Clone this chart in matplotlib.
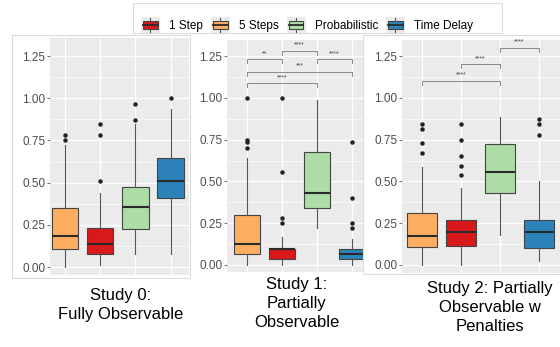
import matplotlib.pyplot as plt
from matplotlib.patches import Rectangle
from matplotlib.lines import Line2D
from matplotlib.legend_handler import HandlerBase

plt.rcParams['font.family'] = ['Liberation Sans', 'DejaVu Sans']

W, H = 560, 347

groups = ["5 Steps", "1 Step", "Probabilistic", "Time Delay"]
colors = ["#FDAE61", "#D7191C", "#ABDDA4", "#2B83BA"]
legend_order = [1, 0, 2, 3]

titles = ["Study 0:\nFully Observable",
          "Study 1:\nPartially\nObservable",
          "Study 2: Partially\nObservable w\nPenalties"]

# box statistics per study, groups in plot order
s0_lo = [0.0, 0.01, 0.08, 0.08]
s0_q1 = [0.105, 0.075, 0.227, 0.41]
s0_med = [0.184, 0.136, 0.354, 0.508]
s0_q3 = [0.352, 0.231, 0.475, 0.647]
s0_hi = [0.722, 0.44, 0.845, 0.936]
s0_out = [[0.75, 0.78], [0.51, 0.78, 0.845], [0.874, 0.967], [1.0]]

s1_lo = [0.0, 0.0, 0.22, 0.0]
s1_q1 = [0.064, 0.034, 0.339, 0.034]
s1_med = [0.128, 0.094, 0.433, 0.066]
s1_q3 = [0.299, 0.094, 0.674, 0.096]
s1_hi = [0.642, 0.17, 0.99, 0.156]
s1_out = [[0.698, 0.734, 0.748, 1.0], [0.25, 0.28, 0.558, 1.0], [], [0.22, 0.25, 0.403, 0.738]]

s2_lo = [0.0, 0.0, 0.179, 0.024]
s2_q1 = [0.106, 0.114, 0.429, 0.10]
s2_med = [0.175, 0.199, 0.556, 0.199]
s2_q3 = [0.309, 0.269, 0.722, 0.269]
s2_hi = [0.588, 0.458, 0.887, 0.504]
s2_out = [[0.668, 0.732, 0.811, 0.843], [0.54, 0.592, 0.652, 0.748, 0.843], [],
          [0.778, 0.841, 0.871]]

# significance brackets: (from group, to group), height, label
s1_pairs = [(1, 2), (2, 3), (3, 4), (1, 4), (1, 3)]
s1_heights = [1.23, 1.282, 1.23, 1.156, 1.086]
s1_labels = ["**", "****", "****", "***", "****"]
s2_pairs = [(1, 3), (2, 3), (3, 4)]
s2_heights = [1.103, 1.202, 1.30]
s2_labels = ["****", "****", "****"]

yticks = [0.0, 0.25, 0.5, 0.75, 1.0, 1.25]


def px_rect(x0, y0, x1, y1):
    return [x0 / W, 1 - y1 / H, (x1 - x0) / W, (y1 - y0) / H]


fig = plt.figure(figsize=(W / 100, H / 100), dpi=100)

studies = [
    (s0_lo, s0_q1, s0_med, s0_q3, s0_hi, s0_out, [], [], []),
    (s1_lo, s1_q1, s1_med, s1_q3, s1_hi, s1_out, s1_pairs, s1_heights, s1_labels),
    (s2_lo, s2_q1, s2_med, s2_q3, s2_hi, s2_out, s2_pairs, s2_heights, s2_labels),
]
ax_px = [(50, 38, 189, 275), (227, 40, 363, 272), (402, 40, 560, 273)]
xlims = [(0.574, 4.52), (0.43, 4.31), (0.49, 4.54)]
ylims = [(-0.047, 1.357), (-0.042, 1.346), (-0.048, 1.346)]

# white frame behind study 0 and the panel overlapping study 1
fig.patches.append(Rectangle((12 / W, 1 - 278 / H), 178 / W, 243 / H, transform=fig.transFigure,
                             fc="white", ec="#dcdcdc", lw=0.8, zorder=-1))
fig.patches.append(Rectangle((363 / W, 1 - 274 / H), 197 / W, 239 / H, transform=fig.transFigure,
                             fc="white", ec="#dcdcdc", lw=0.8, zorder=2))

for i, (lo, q1, med, q3, hi, out, pairs, heights, labels) in enumerate(studies):
    ax = fig.add_axes(px_rect(*ax_px[i]))
    ax.set_zorder(1 if i < 2 else 3)
    ax.set_facecolor("#EBEBEB")
    for sp in ax.spines.values():
        sp.set_visible(False)
    stats = [dict(whislo=lo[k], q1=q1[k], med=med[k], q3=q3[k], whishi=hi[k], fliers=out[k])
             for k in range(4)]
    bp = ax.bxp(stats, positions=[1, 2, 3, 4], widths=0.75, patch_artist=True, showcaps=False,
                boxprops=dict(edgecolor="#444444", linewidth=0.8),
                whiskerprops=dict(color="#555555", linewidth=0.8),
                medianprops=dict(color="#2a2a2a", linewidth=1.5),
                flierprops=dict(marker="o", markersize=2.2, markerfacecolor="#222222",
                                markeredgecolor="#222222"))
    for patch, c in zip(bp["boxes"], colors):
        patch.set_facecolor(c)
    for (a, b), h, lab in zip(pairs, heights, labels):
        ax.plot([a, a, b, b], [h - 0.024, h, h, h - 0.024], color="#8a8a8a", lw=0.7)
        ax.text((a + b) / 2, h + 0.012, lab, ha="center", va="bottom", fontsize=5, color="#444444")
    ax.set_xlim(*xlims[i])
    ax.set_ylim(*ylims[i])
    ax.set_xticks([1, 2, 3, 4])
    ax.set_xticklabels([])
    ax.tick_params(axis="x", length=0)
    ax.set_yticks(yticks)
    ax.set_yticklabels(["%.2f" % v for v in yticks])
    ax.set_yticks([0.125, 0.375, 0.625, 0.875, 1.125], minor=True)
    ax.tick_params(axis="y", which="major", length=2, width=0.6, color="#555555",
                   labelsize=8.5, labelcolor="#4D4D4D", pad=1.5)
    ax.tick_params(axis="y", which="minor", length=0)
    ax.grid(True, which="major", color="white", lw=0.9)
    ax.grid(True, which="minor", axis="y", color="white", lw=0.45)
    ax.set_axisbelow(True)


class BoxKey(HandlerBase):
    def create_artists(self, legend, orig_handle, xdescent, ydescent, width, height, fontsize, trans):
        x0, y0 = -xdescent, -ydescent
        bg = Rectangle((x0, y0), width, height, fc="#EBEBEB", ec="none", transform=trans)
        bx = Rectangle((x0 + 0.12 * width, y0 + 0.25 * height), 0.76 * width, 0.5 * height,
                       fc=orig_handle.get_facecolor(), ec="#444444", lw=0.8, transform=trans)
        md = Line2D([x0 + 0.12 * width, x0 + 0.88 * width], [y0 + 0.5 * height] * 2,
                    color="#2a2a2a", lw=1.3, transform=trans)
        w1 = Line2D([x0 + 0.5 * width] * 2, [y0 + 0.06 * height, y0 + 0.25 * height],
                    color="#555555", lw=0.8, transform=trans)
        w2 = Line2D([x0 + 0.5 * width] * 2, [y0 + 0.75 * height, y0 + 0.94 * height],
                    color="#555555", lw=0.8, transform=trans)
        return [bg, bx, md, w1, w2]


handles = [Rectangle((0, 0), 1, 1, fc=colors[k]) for k in legend_order]
names = [groups[k] for k in legend_order]
fig.patches.append(Rectangle((133 / W, 1 - 33 / H), 369 / W, 30 / H, transform=fig.transFigure,
                             fc="white", ec="#dcdcdc", lw=0.8, zorder=-1))
fig.legend(handles, names, handler_map={Rectangle: BoxKey()}, loc="center left",
           bbox_to_anchor=(141 / W, 1 - 25 / H), ncol=4, frameon=False, fontsize=8.5,
           handlelength=1.6, handleheight=1.6, handletextpad=0.8, columnspacing=0.65,
           borderpad=0, borderaxespad=0)

title_x = [121, 297, 490]
title_top = [288, 277, 281]
for t, x, y in zip(titles, title_x, title_top):
    fig.text(x / W, 1 - y / H, t, ha="center", va="top", fontsize=12, color="black",
             multialignment="center", linespacing=1.33)

fig.savefig("out.png", dpi=100)
